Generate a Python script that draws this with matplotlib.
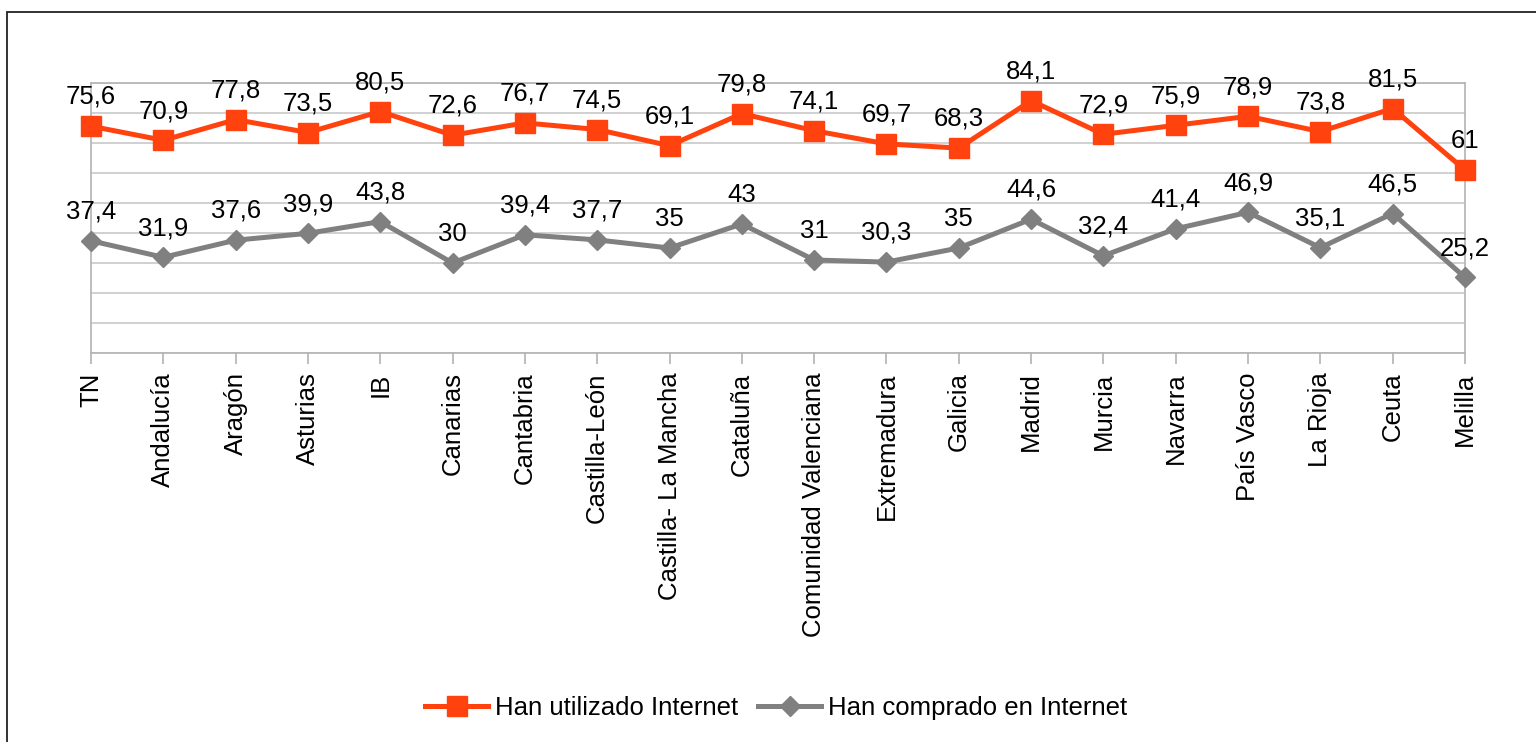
import matplotlib
matplotlib.use("Agg")
import matplotlib.pyplot as plt
from matplotlib.patches import Rectangle

categories = ["TN", "Andalucía", "Aragón", "Asturias", "IB", "Canarias", "Cantabria",
              "Castilla-León", "Castilla- La Mancha", "Cataluña", "Comunidad Valenciana",
              "Extremadura", "Galicia", "Madrid", "Murcia", "Navarra", "País Vasco",
              "La Rioja", "Ceuta", "Melilla"]
utilizado = [75.6, 70.9, 77.8, 73.5, 80.5, 72.6, 76.7, 74.5, 69.1, 79.8, 74.1,
             69.7, 68.3, 84.1, 72.9, 75.9, 78.9, 73.8, 81.5, 61]
comprado = [37.4, 31.9, 37.6, 39.9, 43.8, 30, 39.4, 37.7, 35, 43, 31,
            30.3, 35, 44.6, 32.4, 41.4, 46.9, 35.1, 46.5, 25.2]
series_names = ["Han utilizado Internet", "Han comprado en Internet"]

plt.rcParams['font.family'] = ['Liberation Sans', 'DejaVu Sans']

W, H = 1536, 742
fig = plt.figure(figsize=(W / 100, H / 100), dpi=100)
ax = fig.add_axes([91 / W, 1 - 353 / H, (1465 - 91) / W, (353 - 83) / H])

# outer border
fig.patches.append(Rectangle((7 / W, -0.05), 1.2, 1 - 12 / H + 0.05, transform=fig.transFigure,
                             fill=False, edgecolor='#222222', linewidth=1.3))

x = list(range(len(categories)))
orange = '#FF420E'
gray = '#808080'
ax.plot(x, utilizado, color=orange, lw=3.6, marker='s', ms=14, label=series_names[0],
        zorder=3, clip_on=False)
ax.plot(x, comprado, color=gray, lw=3.6, marker='D', ms=10, label=series_names[1],
        zorder=3, clip_on=False)

def fmt(v):
    s = ("%.1f" % v).rstrip('0').rstrip('.')
    return s.replace('.', ',')

for xi, v in zip(x, utilizado):
    ax.annotate(fmt(v), (xi, v), xytext=(0, 16), textcoords='offset points',
                ha='center', va='baseline', fontsize=18.5, color='black')
for xi, v in zip(x, comprado):
    ax.annotate(fmt(v), (xi, v), xytext=(0, 16), textcoords='offset points',
                ha='center', va='baseline', fontsize=18.5, color='black')

ax.set_xlim(0, len(categories) - 1)
ax.set_ylim(0, 90)
ax.set_yticks(range(0, 91, 10))
ax.yaxis.grid(True, color='#c8c8c8', lw=1.2)
ax.tick_params(axis='y', left=False, labelleft=False)
ax.set_xticks(x)
ax.set_xticklabels(categories, rotation=90, fontsize=18.5)
ax.tick_params(axis='x', length=8, color='#b3b3b3', width=1.2, pad=6)
for s in ax.spines.values():
    s.set_color('#b3b3b3')
    s.set_linewidth(1.2)
ax.set_axisbelow(True)

fig.legend(loc='center', bbox_to_anchor=(776 / W, 1 - 708 / H), ncol=2, frameon=False,
           fontsize=18.5, handlelength=2.45, handletextpad=0.25, columnspacing=0.8)

fig.savefig("out.png", dpi=100)
